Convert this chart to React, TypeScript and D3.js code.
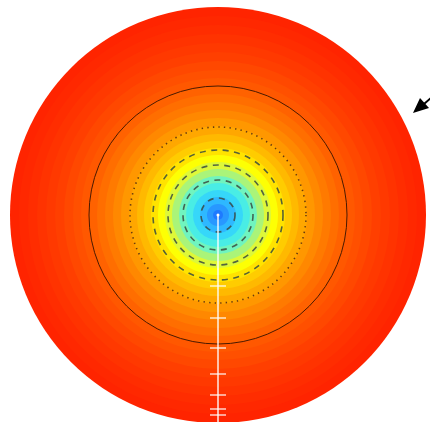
import React from "react";
import * as d3 from "d3";

// Field colour stops (distance from centre -> colour)
const stopRadius = [0, 8, 17, 26, 35, 43, 50, 57, 65, 76, 88, 105, 129, 160, 190, 208];
const stopColor = ["#1a6cff", "#2898ff", "#30c4ff", "#3ceaf2", "#6cf4c4", "#aef474", "#e2f834", "#ffff00", "#ffdc00", "#ffbc00", "#ffa000", "#ff8000", "#ff5c00", "#ff3e00", "#ff2a00", "#ff2200"];
// filled band outer radii
const bandRadius = [208, 199, 190, 181, 172, 163, 154, 145, 137, 129, 121, 113, 105, 97, 89, 81, 74, 67, 60, 53, 46, 39, 32, 25, 18, 11, 5];
// contour lines
const dashedRadius = [65, 50, 35, 17];
const dottedRadius = [88];
const solidRadius = [129];
// scale ticks along the white radial line (distance below centre)
const tickDist = [71, 103, 133, 159, 180, 194, 200];

export default function App() {
  const W = 430, H = 422;
  const cx = 218, cy = 215;
  const rScale = d3.scaleLinear().domain([0, 208]).range([0, 208]);
  const color = d3.scaleLinear<string>().domain(stopRadius).range(stopColor).interpolate(d3.interpolateRgb);
  return (
    <svg width={W} height={H} style={{ position: "absolute", left: 0, top: 0, background: "#fff" }}>
      <g transform={`translate(${cx},${cy})`}>
        {bandRadius.map((r, i) => {
          const inner = i < bandRadius.length - 1 ? bandRadius[i + 1] : 0;
          return <circle key={"b" + i} r={rScale(r)} fill={color((r + inner) / 2)} />;
        })}
        {solidRadius.map((r, i) => (
          <circle key={"s" + i} r={rScale(r)} fill="none" stroke="#4a1a00" strokeWidth={1} />
        ))}
        {dottedRadius.map((r, i) => (
          <circle key={"d" + i} r={rScale(r)} fill="none" stroke="#6a3a10" strokeWidth={1.6} strokeDasharray="1.4 4.2" />
        ))}
        {dashedRadius.map((r, i) => (
          <circle key={"k" + i} r={rScale(r)} fill="none" stroke="#3a4a40" strokeOpacity={0.85} strokeWidth={1.6} strokeDasharray="6 5.5" />
        ))}
        <line x1={0} y1={0} x2={0} y2={H - cy} stroke="#fff" strokeOpacity={0.9} strokeWidth={1.5} />
        {tickDist.map((d, i) => (
          <line key={"t" + i} x1={-8} x2={8} y1={rScale(d)} y2={rScale(d)} stroke="#fff" strokeOpacity={0.85} strokeWidth={1.4} />
        ))}
        <circle r={1.5} fill="#fff" />
      </g>
      <line x1={440} y1={90} x2={424} y2={104} stroke="#000" strokeWidth={2} />
      <path d="M413,113 L420,98 L429,108 Z" fill="#000" />
    </svg>
  );
}
